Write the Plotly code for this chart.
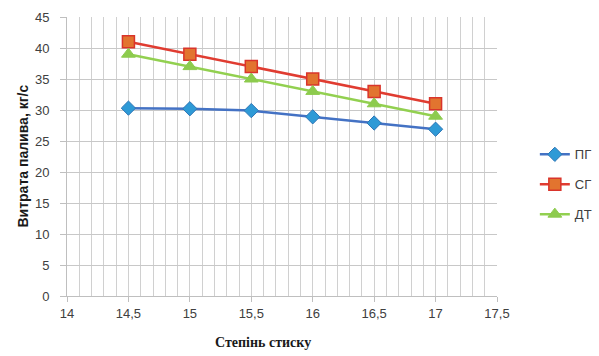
import plotly.graph_objects as go

x_vals = [14.5, 15, 15.5, 16, 16.5, 17]
pg = [30.3, 30.2, 29.9, 28.9, 27.9, 26.9]
sg = [41, 39, 37, 35, 33, 31]
dt = [39, 37, 35, 33, 31, 29]
x_ticks = [14, 14.5, 15, 15.5, 16, 16.5, 17, 17.5]
x_tick_labels = ["14", "14,5", "15", "15,5", "16", "16,5", "17", "17,5"]
y_ticks = [0, 5, 10, 15, 20, 25, 30, 35, 40, 45]

fig = go.Figure()
fig.add_trace(go.Scatter(x=x_vals, y=pg, name="ПГ", mode="lines+markers", legendgroup="a",
                         line=dict(color="#4472C4", width=2.5),
                         marker=dict(symbol="diamond", size=11, color="#2E9AD6",
                                     line=dict(color="#2E75B6", width=1))))
fig.add_trace(go.Scatter(x=x_vals, y=sg, name="СГ", mode="lines+markers", legendgroup="b",
                         line=dict(color="#E03C31", width=2.5),
                         marker=dict(symbol="square", size=12, color="#E2742F",
                                     line=dict(color="#D9342B", width=1.5))))
fig.add_trace(go.Scatter(x=x_vals, y=dt, name="ДТ", mode="lines+markers", legendgroup="c",
                         line=dict(color="#92D050", width=2.5),
                         marker=dict(symbol="triangle-up", size=12, color="#8DCB4E",
                                     line=dict(color="#8DCB4E", width=1))))

fig.update_layout(
    width=599, height=356,
    margin=dict(l=67, r=102, t=17, b=60, autoexpand=False),
    paper_bgcolor="white", plot_bgcolor="white",
    font=dict(family="Liberation Sans, Arial, sans-serif", size=13, color="#404040"),
    legend=dict(x=1.088, y=0.4, xanchor="left", yanchor="middle",
                font=dict(size=13, color="#404040"), tracegroupgap=10,
                itemwidth=30, bgcolor="rgba(0,0,0,0)"),
    showlegend=True,
    annotations=[
        dict(text="<b>Степінь стиску</b>", xref="paper", yref="paper", x=0.456, y=0,
             xanchor="center", yanchor="top", yshift=-37, showarrow=False,
             font=dict(family="Liberation Serif, Times New Roman, serif", size=14, color="#1a1a1a")),
        dict(text="<b>Витрата палива, кг/с</b>", xref="paper", yref="paper", x=0, y=0.5,
             xanchor="center", yanchor="middle", xshift=-45, textangle=-90, showarrow=False,
             font=dict(family="Liberation Sans, Arial, sans-serif", size=14, color="#1a1a1a")),
    ],
)
fig.update_xaxes(range=[14, 17.5], tickmode="array", tickvals=x_ticks, ticktext=x_tick_labels,
                 showgrid=True, gridcolor="#d0d0d0", gridwidth=1,
                 minor=dict(dtick=0.1, showgrid=True, gridcolor="#d0d0d0", gridwidth=1),
                 showline=True, linecolor="#bfbfbf", linewidth=1,
                 ticks="outside", ticklen=5, tickcolor="#bfbfbf",
                 zeroline=False)
fig.update_yaxes(range=[0, 45], tickmode="array", tickvals=y_ticks,
                 showgrid=True, gridcolor="#c8c8c8", gridwidth=1,
                 showline=True, linecolor="#bfbfbf", linewidth=1,
                 ticks="outside", ticklen=6, tickcolor="#bfbfbf",
                 ticklabelstandoff=8,
                 zeroline=False)

fig.write_html("out.html", config={"displayModeBar": False},
               post_script="document.body.style.margin='0';document.body.style.overflow='hidden';")
